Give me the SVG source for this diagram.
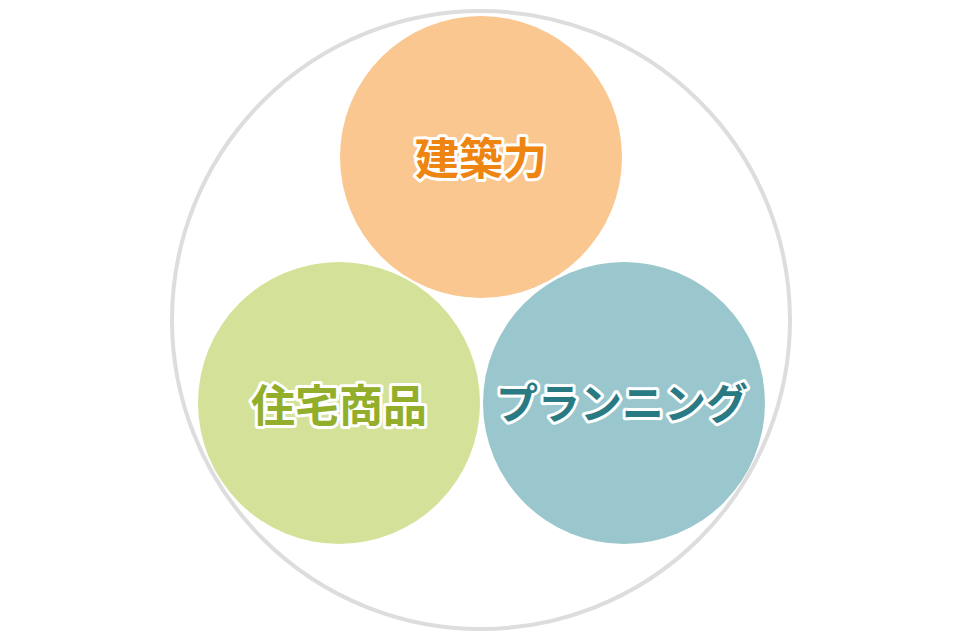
<svg xmlns="http://www.w3.org/2000/svg" width="960" height="640" viewBox="0 0 960 640">
<style>
.lbl{font-family:"Noto Sans CJK JP","Noto Sans CJK SC",sans-serif;font-weight:700;font-size:42px;text-anchor:middle;stroke:#ffffff;stroke-width:6px;stroke-linejoin:round;paint-order:stroke fill;}
.big{font-size:44px;}
</style>
<rect width="960" height="640" fill="#ffffff"/>
<g id="outer">
<circle cx="481" cy="320" r="309" fill="none" stroke="#dddddd" stroke-width="4"/>
</g>
<g id="connectors"></g>
<g id="node-kenchiku">
<circle cx="481" cy="157" r="141" fill="#f9c78f"/>
<text class="lbl big" x="481" y="175" fill="#ee8510">建築力</text>
</g>
<g id="node-jutaku">
<circle cx="339" cy="403" r="141" fill="#d4e299"/>
<text class="lbl big" x="339" y="422" fill="#92ae2b">住宅商品</text>
</g>
<g id="node-planning">
<circle cx="624" cy="403" r="141" fill="#9ac7cd"/>
<text class="lbl" x="622" y="419" fill="#2a7a84">プランニング</text>
</g>
</svg>
